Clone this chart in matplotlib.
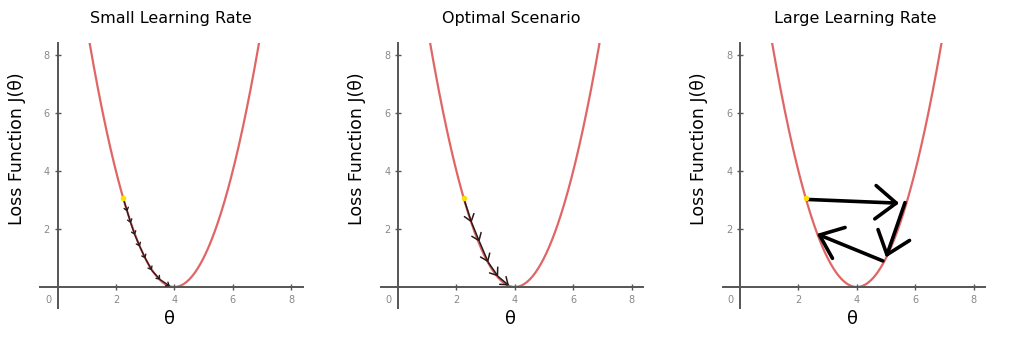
import numpy as np
import matplotlib
matplotlib.use("Agg")
import matplotlib.pyplot as plt

titles = ["Small Learning Rate", "Optimal Scenario", "Large Learning Rate"]
x_ticks = [2, 4, 6, 8]
y_ticks = [2, 4, 6, 8]

# parabola J(theta) = a*(theta - vertex_x)^2 + vertex_y
vertex_x, vertex_y, curv = 4.0, 0.0, 1.0

start_point = (2.25, 3.06)

small_steps_x = [2.25, 2.39, 2.51, 2.65, 2.82, 3.01, 3.23, 3.52, 3.85]
small_steps_y = [3.06, 2.60, 2.20, 1.79, 1.39, 0.98, 0.57, 0.25, 0.03]

opt_steps_x = [2.25, 2.52, 2.79, 3.09, 3.43, 3.80]
opt_steps_y = [3.06, 2.22, 1.56, 0.85, 0.36, 0.05]

# large learning rate arrows
large_start_x = [2.28, 5.65, 4.89]
large_start_y = [3.02, 2.91, 0.90]
large_end_x = [5.45, 5.00, 2.63]
large_end_y = [2.89, 1.02, 1.83]

curve_color = "#e06666"
axis_color = "#555555"

fig = plt.figure(figsize=(10.24, 3.41), dpi=100)
W, H = 1024, 341
lefts = [40, 380.5, 722.5]
xmin, xmax = -0.6, 8.4
ymin, ymax = -0.72, 8.42
px_per = 29.2
aw = (xmax - xmin) * px_per
ah = (ymax - ymin) * 29.0
bottom_px = 287 + (-ymin) * 29.0

theta = np.linspace(vertex_x - np.sqrt((ymax - vertex_y) / curv),
                    vertex_x + np.sqrt((ymax - vertex_y) / curv), 400)
loss = curv * (theta - vertex_x) ** 2 + vertex_y

title_x = [171, 511, 855]
ylabel_x = [17, 357, 699]

axes = []
for i, l in enumerate(lefts):
    ax = fig.add_axes([l / W, (H - bottom_px) / H, aw / W, ah / H])
    ax.set_xlim(xmin, xmax)
    ax.set_ylim(ymin, ymax)
    for s in ["top", "right"]:
        ax.spines[s].set_visible(False)
    ax.spines["left"].set_position(("data", 0))
    ax.spines["bottom"].set_position(("data", 0))
    for s in ["left", "bottom"]:
        ax.spines[s].set_color(axis_color)
        ax.spines[s].set_linewidth(1.4)
    ax.set_xticks(x_ticks)
    ax.set_yticks(y_ticks)
    ax.tick_params(direction="inout", length=5, width=1, color=axis_color,
                   labelsize=7, labelcolor="#888888", pad=3)
    ax.text(-0.22, -0.28, "0", fontsize=7, color="#888888", ha="right", va="top")
    ax.plot(theta, loss, color=curve_color, lw=1.6, zorder=2)
    fig.text(title_x[i] / W, 1 - 18 / H, titles[i], fontsize=11.5, ha="center", va="center")
    fig.text(ylabel_x[i] / W, 1 - 149 / H, "Loss Function J(θ)", rotation=90,
             fontsize=12.5, ha="center", va="center")
    ax.text((xmin + xmax) / 2 - 0.05, -1.1, "θ", fontsize=13, ha="center", va="center")
    axes.append(ax)

# small learning rate
ax = axes[0]
for k in range(len(small_steps_x) - 1):
    ax.annotate("", xy=(small_steps_x[k + 1], small_steps_y[k + 1]),
                xytext=(small_steps_x[k], small_steps_y[k]),
                arrowprops=dict(arrowstyle="->,head_length=0.5,head_width=0.4",
                                color="#2b1a1a", lw=1.0, shrinkA=0, shrinkB=0,
                                mutation_scale=4), zorder=3)

# optimal
ax = axes[1]
for k in range(len(opt_steps_x) - 1):
    ax.annotate("", xy=(opt_steps_x[k + 1], opt_steps_y[k + 1]),
                xytext=(opt_steps_x[k], opt_steps_y[k]),
                arrowprops=dict(arrowstyle="->,head_length=0.6,head_width=0.45",
                                color="#2b1a1a", lw=1.1, shrinkA=0, shrinkB=0,
                                mutation_scale=8), zorder=3)

# large
ax = axes[2]
for sx, sy, ex, ey in zip(large_start_x, large_start_y, large_end_x, large_end_y):
    ax.annotate("", xy=(ex, ey), xytext=(sx, sy),
                arrowprops=dict(arrowstyle="->,head_length=1.0,head_width=0.8",
                                color="black", lw=2.6, shrinkA=0, shrinkB=0,
                                mutation_scale=15), zorder=3)

for ax in axes:
    ax.scatter([start_point[0]], [start_point[1]], s=16, color="#ffdd00", zorder=5, linewidths=0)

fig.savefig("out.png", dpi=100, facecolor="white")
